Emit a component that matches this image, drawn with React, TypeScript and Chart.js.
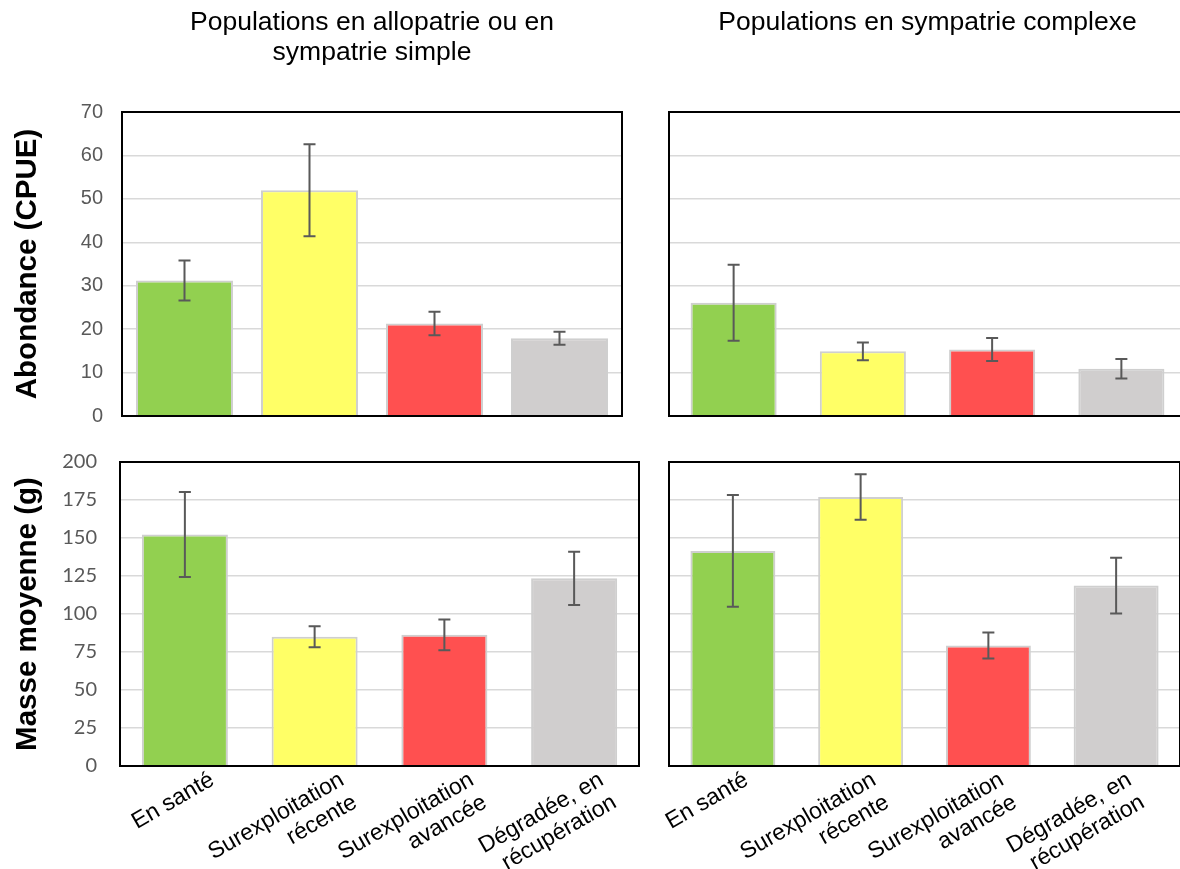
import React, { useEffect, useRef } from "react";
import { Chart, registerables } from "chart.js";

Chart.register(...registerables);

// ---------- data ----------
const categories: string[][] = [
  ["En santé"],
  ["Surexploitation", "récente"],
  ["Surexploitation", "avancée"],
  ["Dégradée, en", "récupération"],
];
const barColors = ["#92D050", "#FFFF66", "#FF5050", "#D0CECE"];

const titleAllo = ["Populations en allopatrie ou en", "sympatrie simple"];
const titleSym = ["Populations en sympatrie complexe"];
const yTitleAbundance = "Abondance (CPUE)";
const yTitleMass = "Masse moyenne (g)";

const abundanceAllo = [31.2, 52.0, 21.3, 17.9];
const abundanceAlloErr = [4.6, 10.6, 2.7, 1.5];
const abundanceSym = [26.1, 14.9, 15.3, 10.9];
const abundanceSymErr = [8.75, 2.05, 2.65, 2.25];
const massAllo = [152.3, 85.0, 86.3, 123.5];
const massAlloErr = [27.9, 6.95, 10.1, 17.5];
const massSym = [141.5, 177.0, 79.3, 118.7];
const massSymErr = [36.8, 15.0, 8.5, 18.3];

const abundanceMax = 70;
const abundanceStep = 10;
const massMax = 200;
const massStep = 25;

const ARIAL = "'Liberation Sans', Arial, Helvetica, sans-serif";
const CALIBRI = "Lato, 'Open Sans', sans-serif";

// ---------- plugins ----------
const decorPlugin = {
  id: "decor",
  afterDatasetsDraw(chart: any, _args: any, opts: any) {
    const { ctx, chartArea } = chart;
    const xs = chart.scales.x;
    const ys = chart.scales.y;
    const vals: number[] = opts.values || [];
    const errs: number[] = opts.errors || [];
    ctx.save();
    ctx.strokeStyle = "#595959";
    ctx.lineWidth = 2;
    vals.forEach((v, i) => {
      const x = xs.getPixelForValue(i);
      const yHi = ys.getPixelForValue(v + errs[i]);
      const yLo = ys.getPixelForValue(v - errs[i]);
      ctx.beginPath();
      ctx.moveTo(x, yHi);
      ctx.lineTo(x, yLo);
      ctx.moveTo(x - 6, yHi);
      ctx.lineTo(x + 6, yHi);
      ctx.moveTo(x - 6, yLo);
      ctx.lineTo(x + 6, yLo);
      ctx.stroke();
    });
    ctx.strokeStyle = "#000";
    ctx.lineWidth = 2;
    ctx.strokeRect(chartArea.left, chartArea.top, chartArea.right - chartArea.left, chartArea.bottom - chartArea.top);
    ctx.restore();
  },
};

// rotated category labels, lines right-aligned (as in the spreadsheet original)
const xLabelsPlugin = {
  id: "xLabels",
  afterDraw(chart: any, _args: any, opts: any) {
    if (!opts.show) return;
    const { ctx, chartArea } = chart;
    const xs = chart.scales.x;
    const lh = 26;
    ctx.save();
    ctx.font = `23px ${ARIAL}`;
    ctx.fillStyle = "#000";
    ctx.textAlign = "right";
    ctx.textBaseline = "middle";
    categories.forEach((lines, i) => {
      const tx = xs.getPixelForValue(i);
      ctx.save();
      ctx.translate(tx + opts.offset, chartArea.bottom + opts.gap);
      ctx.rotate(-Math.PI / 6);
      lines.forEach((l, j) => ctx.fillText(l, 0, j * lh + lh / 2));
      ctx.restore();
    });
    ctx.restore();
  },
};

Chart.register(decorPlugin as any, xLabelsPlugin as any);

type Panel = {
  left: number;
  top: number;
  width: number;
  height: number;
  values: number[];
  errors: number[];
  yMax: number;
  yStep: number;
  barPct: number;
  yWidth: number;
  padding: { top: number; right: number; bottom: number; left: number };
  title?: string[];
  titlePadTop?: number;
  titlePadBottom?: number;
  yTitle?: string;
  showTicks: boolean;
  tickFont: string;
  tickSize: number;
  tickPadding: number;
  xLabels: boolean;
  labelOffset: number;
};

const panels: Panel[] = [
  {
    left: 0, top: 0, width: 640, height: 450,
    values: abundanceAllo, errors: abundanceAlloErr,
    yMax: abundanceMax, yStep: abundanceStep,
    barPct: 0.776, yWidth: 122,
    padding: { top: 0, right: 18, bottom: 34, left: 0 },
    title: titleAllo, titlePadTop: 7.5, titlePadBottom: 44.5,
    yTitle: yTitleAbundance, showTicks: true, tickFont: ARIAL, tickSize: 20, tickPadding: 19,
    xLabels: false, labelOffset: 0,
  },
  {
    left: 640, top: 0, width: 560, height: 450,
    values: abundanceSym, errors: abundanceSymErr,
    yMax: abundanceMax, yStep: abundanceStep,
    barPct: 0.666, yWidth: 29,
    padding: { top: 0, right: 14, bottom: 34, left: 0 },
    title: titleSym, titlePadTop: 7.5, titlePadBottom: 74.5,
    showTicks: false, tickFont: ARIAL, tickSize: 20, tickPadding: 0,
    xLabels: false, labelOffset: 0,
  },
  {
    left: 0, top: 425, width: 660, height: 444,
    values: massAllo, errors: massAlloErr,
    yMax: massMax, yStep: massStep,
    barPct: 0.663, yWidth: 120,
    padding: { top: 37, right: 21, bottom: 103, left: 0 },
    yTitle: yTitleMass, showTicks: true, tickFont: CALIBRI, tickSize: 20, tickPadding: 23,
    xLabels: true, labelOffset: 21,
  },
  {
    left: 640, top: 425, width: 560, height: 444,
    values: massSym, errors: massSymErr,
    yMax: massMax, yStep: massStep,
    barPct: 0.665, yWidth: 29,
    padding: { top: 37, right: 20, bottom: 103, left: 0 },
    showTicks: false, tickFont: CALIBRI, tickSize: 20, tickPadding: 0,
    xLabels: true, labelOffset: 7,
  },
];

function makeConfig(p: Panel): any {
  return {
    type: "bar",
    data: {
      labels: categories.map((c) => c.join(" ")),
      datasets: [
        {
          data: p.values,
          backgroundColor: barColors,
          borderColor: "#CFCFCF",
          borderWidth: 2,
          barPercentage: p.barPct,
          categoryPercentage: 1,
        },
      ],
    },
    options: {
      responsive: false,
      animation: false,
      devicePixelRatio: 1,
      layout: { padding: p.padding },
      plugins: {
        legend: { display: false },
        tooltip: { enabled: false },
        title: p.title
          ? {
              display: true,
              text: p.title,
              fullSize: false,
              color: "#000",
              font: { family: ARIAL, size: 26.5, weight: "normal", lineHeight: 30 / 26.5 },
              padding: { top: p.titlePadTop, bottom: p.titlePadBottom },
            }
          : { display: false },
        decor: { values: p.values, errors: p.errors },
        xLabels: { show: p.xLabels, offset: p.labelOffset, gap: 1 },
      },
      scales: {
        x: {
          type: "category",
          display: false,
          offset: true,
        },
        y: {
          type: "linear",
          min: 0,
          max: p.yMax,
          ticks: {
            stepSize: p.yStep,
            display: p.showTicks,
            padding: p.tickPadding,
            color: "#595959",
            font: { family: p.tickFont, size: p.tickSize },
          },
          grid: { color: "#D9D9D9", lineWidth: 1.5, drawTicks: false },
          border: { display: false },
          title: p.yTitle
            ? {
                display: true,
                text: p.yTitle,
                color: "#000",
                font: { family: ARIAL, size: 29.5, weight: "bold", lineHeight: 1.2 },
                padding: { top: 10.5, bottom: 0 },
              }
            : { display: false },
          afterFit: (s: any) => {
            s.width = p.yWidth;
          },
        },
      },
    },
  };
}

function PanelChart({ p }: { p: Panel }) {
  const ref = useRef<HTMLCanvasElement | null>(null);
  useEffect(() => {
    if (!ref.current) return;
    const chart = new Chart(ref.current, makeConfig(p));
    return () => chart.destroy();
  }, [p]);
  return (
    <div style={{ position: "absolute", left: p.left, top: p.top, width: p.width, height: p.height }}>
      <canvas ref={ref} width={p.width} height={p.height} style={{ display: "block", width: p.width, height: p.height }} />
    </div>
  );
}

export default function App() {
  return (
    <div
      style={{
        position: "fixed",
        left: 0,
        top: 0,
        width: 1180,
        height: 869,
        overflow: "hidden",
        background: "#fff",
      }}
    >
      {panels.map((p, i) => (
        <PanelChart key={i} p={p} />
      ))}
    </div>
  );
}
